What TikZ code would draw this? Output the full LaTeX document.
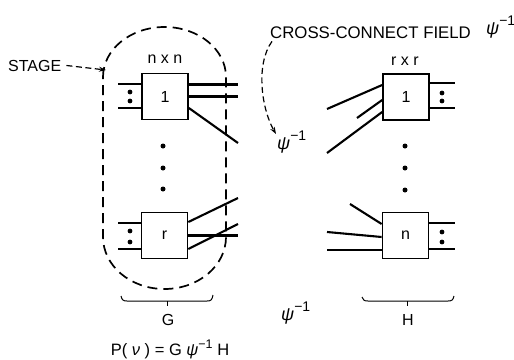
\documentclass[tikz,border=0pt]{standalone}
\usepackage{fontspec}
\setmainfont{Liberation Sans}
\usetikzlibrary{arrows.meta}
\newcommand{\psiinv}{{\fontsize{18}{18}\selectfont\itshape ψ}\raisebox{9pt}{\fontsize{14}{14}\selectfont −1}}
\begin{document}
\begin{tikzpicture}[x=1pt,y=-1pt,
  swbox/.style={draw, line width=1.7pt, minimum width=46pt, minimum height=46pt, inner sep=0pt, font=\fontsize{16}{18}\selectfont},
  wire/.style={line width=2.1pt},
  stub/.style={line width=1.9pt},
  lbl/.style={font=\fontsize{16}{18}\selectfont, inner sep=0pt},
  bracepath/.style={line width=1pt},
  enclose/.style={line width=1.7pt, dash pattern=on 10pt off 6pt},
  ptrarrow/.style={line width=1.2pt, dash pattern=on 6pt off 3.5pt, -{Stealth[length=7pt,width=5pt]}},
]
\useasboundingbox (0,0) rectangle (514,359);

% switch boxes
\node[swbox] (g1) at (165,96.5) {1};
\node[swbox] (gr) at (164.5,235.5) {r};
\node[swbox] (h1) at (406,97) {1};
\node[swbox] (hn) at (405.5,235.5) {n};

% labels
\node[lbl, anchor=base] (nxn) at (165,63) {n x n};
\node[lbl, anchor=base] (rxr) at (405,65) {r x r};
\node[lbl, anchor=base west] (stage) at (8,71) {STAGE};
\node[lbl, font=\fontsize{16.8}{18}\selectfont, anchor=base west] (ccf) at (270,38) {CROSS-CONNECT FIELD};
\node[inner sep=0pt, anchor=base west] (psiA) at (486,34) {\psiinv};
\node[inner sep=0pt, anchor=base west] (psiB) at (277,149) {\psiinv};
\node[inner sep=0pt, anchor=base west] (psiC) at (281,320) {\psiinv};
\node[lbl] (glab) at (168,320) {G};
\node[lbl] (hlab) at (408,320) {H};
\node[lbl, font=\fontsize{16.5}{18}\selectfont, anchor=base] (formula) at (170,355) {P( \textit{ν} ) = G \textit{ψ}\raisebox{7pt}{\fontsize{12.5}{12.5}\selectfont −1} H};

% stage G, box 1
\coordinate (g1a) at (118,84);
\coordinate (g1b) at (118,108);
\coordinate (g1c) at (238,84.5);
\coordinate (g1d) at (238,96.5);
\coordinate (g1e) at (238,143);
\draw[stub] ([yshift=12.5pt]g1.west) -- (g1a);
\draw[stub] ([yshift=-11.5pt]g1.west) -- (g1b);
\draw[wire] ([yshift=12pt]g1.east) -- (g1c);
\draw[wire] (g1.east) -- (g1d);
\draw[wire] ([yshift=-11.5pt]g1.east) -- (g1e);
\fill (130,92) circle[radius=2.4pt] (130,101) circle[radius=2.4pt];

% stage G, box r
\coordinate (gra) at (118,223);
\coordinate (grb) at (118,249);
\coordinate (grc) at (238,198);
\coordinate (grd) at (238,235.5);
\coordinate (gre) at (238,224);
\draw[stub] ([yshift=12.5pt]gr.west) -- (gra);
\draw[stub] ([yshift=-13.5pt]gr.west) -- (grb);
\draw[wire] ([yshift=13.5pt]gr.east) -- (grc);
\draw[wire] (gr.east) -- (grd);
\draw[wire] ([yshift=-13.5pt]gr.east) -- (gre);
\fill (130,231) circle[radius=2.4pt] (130,242) circle[radius=2.4pt];

% vertical dots
\fill (163,146) circle[radius=2.5pt] (163,168) circle[radius=2.5pt] (163,189) circle[radius=2.5pt];
\fill (405,146) circle[radius=2.5pt] (405,168) circle[radius=2.5pt] (405,190) circle[radius=2.5pt];

% stage H, box 1
\coordinate (h1a) at (327,109);
\coordinate (h1b) at (357,118);
\coordinate (h1c) at (327,153);
\coordinate (h1d) at (455,83);
\coordinate (h1e) at (455,108);
\draw[wire] ([yshift=12pt]h1.west) -- (h1a);
\draw[wire] ([yshift=-3pt]h1.west) -- (h1b);
\draw[wire] ([yshift=-15pt]h1.west) -- (h1c);
\draw[stub] ([yshift=14pt]h1.east) -- (h1d);
\draw[stub] ([yshift=-11pt]h1.east) -- (h1e);
\fill (442,93) circle[radius=2.4pt] (442,101) circle[radius=2.4pt];

% stage H, box n
\coordinate (hna) at (350,204);
\coordinate (hnb) at (327,232);
\coordinate (hnc) at (327,250);
\coordinate (hnd) at (455,223);
\coordinate (hne) at (455,249);
\draw[wire] ([yshift=11.5pt]hn.west) -- (hna);
\draw[wire] ([yshift=-1.5pt]hn.west) -- (hnb);
\draw[wire] ([yshift=-14.5pt]hn.west) -- (hnc);
\draw[stub] ([yshift=12.5pt]hn.east) -- (hnd);
\draw[stub] ([yshift=-13.5pt]hn.east) -- (hne);
\fill (442,232) circle[radius=2.4pt] (442,242) circle[radius=2.4pt];

% stage enclosure
\draw[enclose] (103,77) .. controls (103,49.4) and (130.5,27) .. (164.5,27)
  .. controls (198.5,27) and (226,49.4) .. (226,77) -- (226,237)
  .. controls (226,265.7) and (198.5,289) .. (164.5,289)
  .. controls (130.5,289) and (103,265.7) .. (103,237) -- cycle;
\coordinate (encl) at (106,70);
\draw[ptrarrow] ([xshift=5pt]stage.east) -- (encl);

% cross-connect pointer
\coordinate (ccend) at (276,134);
\draw[ptrarrow] ([shift={(2pt,-3pt)}]ccf.south west) .. controls (255,65) and (262,110) .. (ccend);

% braces
\draw[bracepath] (121,296) .. controls (122,300) and (123,301) .. (127,301) -- (207,301)
  .. controls (211,301) and (212,300) .. (213,295);
\draw[bracepath] (167,301) -- (167,306);
\draw[bracepath] (362,297) .. controls (363,300) and (364,301) .. (368,301) -- (448,301)
  .. controls (452,301) and (453,300) .. (454,296);
\draw[bracepath] (407,301) -- (407,306);
\end{tikzpicture}
\end{document}
